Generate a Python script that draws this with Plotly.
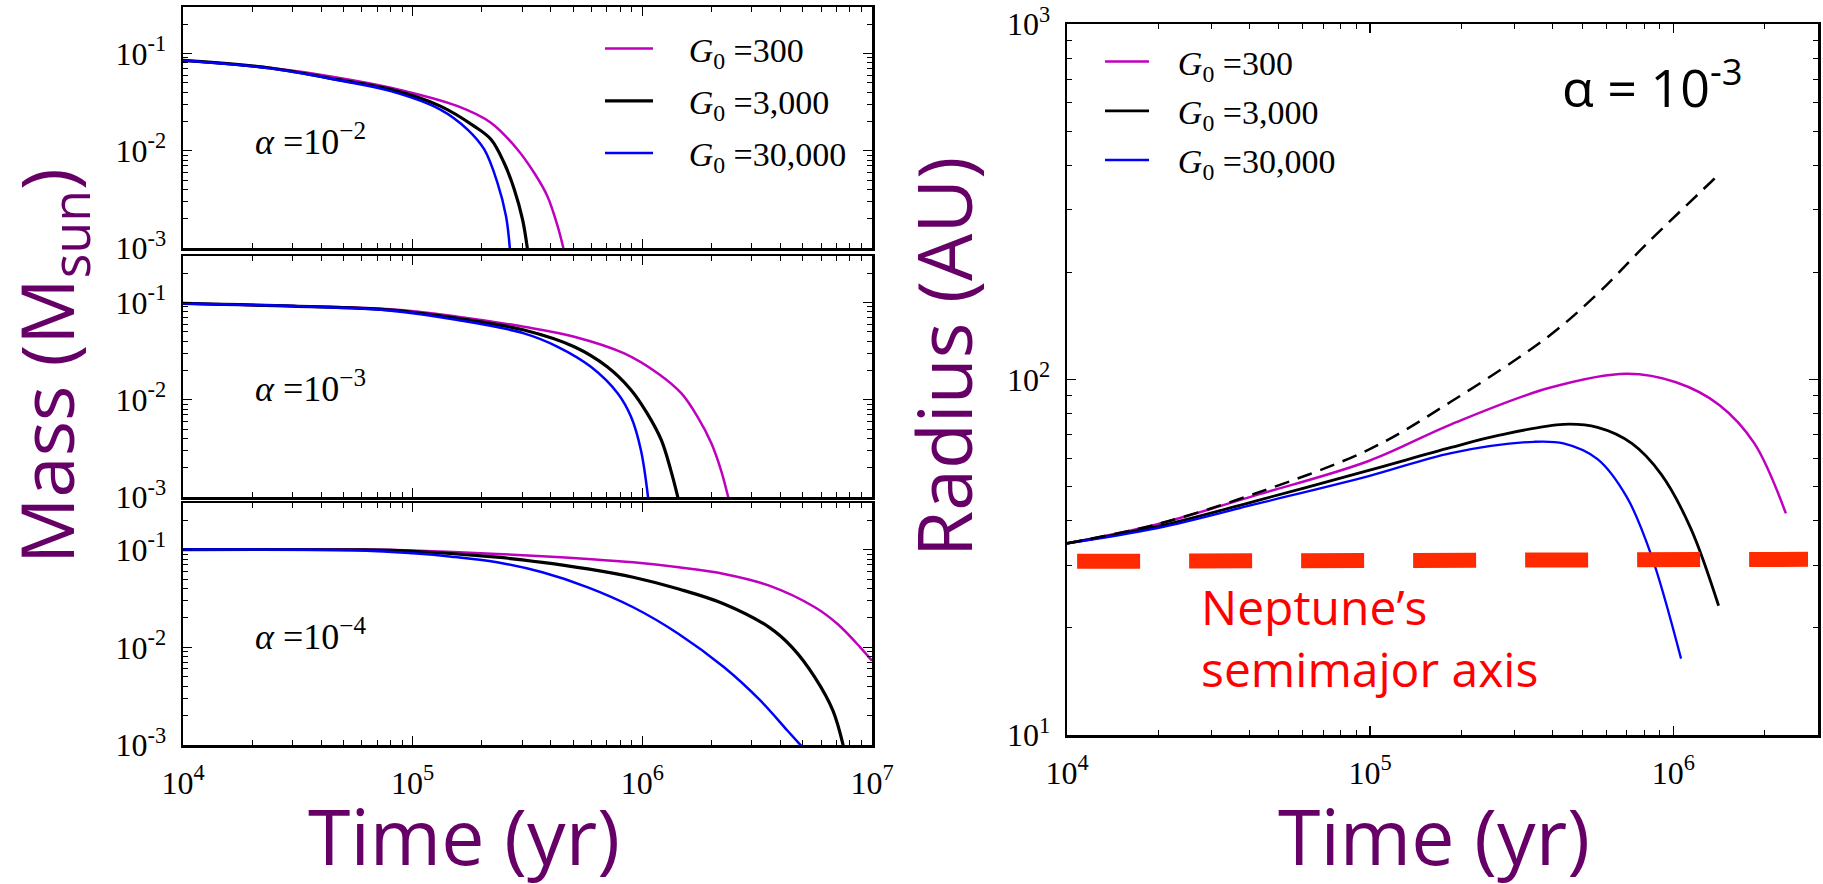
import plotly.graph_objects as go

W, H = 1823, 884

# ---------------- data ----------------
# Left column: disc mass (Msun) vs time (yr) for three viscosities
t_a2_mag = [1.0e4, 2.39e4, 4.74e4, 8.02e4, 1.57e5, 2.19e5, 2.86e5, 3.38e5, 3.86e5, 4.28e5, 4.54e5]
m_a2_mag = [0.0847, 0.0713, 0.0564, 0.0444, 0.0287, 0.0194, 0.0103, 0.00593, 0.00341, 0.00167, 0.00098]
t_a2_black = [1.0e4, 2.39e4, 4.74e4, 8.02e4, 1.32e5, 1.85e5, 2.19e5, 2.50e5, 2.77e5, 3.01e5, 3.16e5]
m_a2_black = [0.0847, 0.0708, 0.0537, 0.0427, 0.0287, 0.0179, 0.0131, 0.00752, 0.00400, 0.00196, 0.00098]
t_a2_blue = [1.0e4, 2.39e4, 4.74e4, 8.02e4, 1.32e5, 1.73e5, 2.05e5, 2.34e5, 2.55e5, 2.65e5]
m_a2_blue = [0.0847, 0.0702, 0.0530, 0.0410, 0.0265, 0.0166, 0.0103, 0.00468, 0.00212, 0.00098]

t_a3_mag = [1.0e4, 3.01e4, 8.02e4, 1.57e5, 3.05e5, 5.05e5, 8.34e5, 1.17e6, 1.48e6, 1.74e6, 2.00e6, 2.20e6, 2.37e6]
m_a3_mag = [0.0977, 0.0916, 0.0849, 0.0713, 0.0562, 0.0444, 0.0299, 0.0186, 0.0116, 0.00667, 0.00355, 0.00189, 0.00098]
t_a3_black = [1.0e4, 3.01e4, 8.02e4, 1.57e5, 3.05e5, 5.05e5, 7.03e5, 8.93e5, 1.05e6, 1.21e6, 1.33e6, 1.43e6]
m_a3_black = [0.0977, 0.0916, 0.0836, 0.0686, 0.0520, 0.0350, 0.0218, 0.0126, 0.00723, 0.00384, 0.00189, 0.00098]
t_a3_blue = [1.0e4, 3.01e4, 8.02e4, 1.57e5, 3.05e5, 4.28e5, 5.97e5, 7.82e5, 8.93e5, 9.86e5, 1.06e6]
m_a3_blue = [0.0977, 0.0916, 0.0822, 0.0659, 0.0481, 0.0350, 0.0218, 0.0116, 0.00667, 0.00303, 0.00098]

t_a4_mag = [1.0e4, 5.96e4, 1.0e5, 2.33e5, 3.67e5, 5.79e5, 9.12e5, 1.44e6, 2.27e6, 3.57e6, 5.64e6, 7.08e6, 8.89e6, 1.0e7]
m_a4_mag = [0.100, 0.100, 0.0977, 0.0904, 0.0855, 0.0802, 0.0741, 0.0659, 0.0564, 0.0428, 0.0257, 0.0173, 0.0100, 0.00729]
t_a4_black = [1.0e4, 5.96e4, 1.0e5, 2.33e5, 3.67e5, 5.79e5, 9.12e5, 1.44e6, 2.27e6, 3.57e6, 4.49e6, 5.64e6, 6.76e6, 7.50e6]
m_a4_black = [0.100, 0.0993, 0.0962, 0.0836, 0.0741, 0.0634, 0.0521, 0.0395, 0.0278, 0.0160, 0.0100, 0.00493, 0.00225, 0.00098]
t_a4_blue = [1.0e4, 5.96e4, 1.0e5, 1.48e5, 2.33e5, 3.67e5, 5.79e5, 9.12e5, 1.44e6, 2.27e6, 3.27e6, 4.29e6, 4.92e6]
m_a4_blue = [0.100, 0.0977, 0.0916, 0.0847, 0.0741, 0.0586, 0.0411, 0.0257, 0.0137, 0.00624, 0.00284, 0.00140, 0.00098]

# Right panel: disc radius (AU) vs time (yr), alpha = 1e-3
t_r_mag = [1.0e4, 1.99e4, 4.18e4, 9.89e4, 1.85e5, 3.88e5, 7.03e5, 1.02e6, 1.42e6, 1.85e6, 2.35e6]
r_mag = [34.6, 39.2, 47.2, 59.0, 74.8, 94.6, 103.8, 98.2, 84.7, 66.1, 42.0]
t_r_black = [1.0e4, 1.99e4, 4.18e4, 9.89e4, 1.85e5, 2.67e5, 4.34e5, 5.62e5, 7.29e5, 9.12e5, 1.14e6, 1.41e6]
r_black = [34.6, 38.6, 45.5, 55.5, 64.4, 69.7, 74.8, 73.3, 66.1, 54.1, 38.2, 23.1]
t_r_blue = [1.0e4, 1.99e4, 4.18e4, 9.89e4, 1.85e5, 3.47e5, 4.34e5, 5.62e5, 7.03e5, 8.45e5, 1.06e6]
r_blue = [34.6, 38.2, 44.6, 53.5, 62.1, 66.8, 66.1, 59.7, 46.6, 32.1, 16.4]
t_r_dash = [1.0e4, 1.99e4, 4.18e4, 9.89e4, 1.85e5, 3.88e5, 5.62e5, 8.15e5, 1.41e6]
r_dash = [34.6, 39.2, 47.8, 63.5, 86.7, 132.4, 174.2, 240.4, 376.7]
t_neptune = [1.08e4, 2.78e6]
r_neptune = [30.8, 31.2]

# spacing between the legend line sample and its label
GAP_L = "\u200b\u2002\u2009\u2009"
GAP_R = "\u200b\u2002\u2009"
g_labels = ["<i>G</i><sub>0</sub> =300", "<i>G</i><sub>0</sub> =3,000", "<i>G</i><sub>0</sub> =30,000"]
alpha_labels = ["<i>α</i> =10<sup>−2</sup>", "<i>α</i> =10<sup>−3</sup>", "<i>α</i> =10<sup>−4</sup>"]
mass_ticks = [1e-3, 1e-2, 1e-1]
mass_ticktext = ["10<sup>-3</sup>", "10<sup>-2</sup>", "10<sup>-1</sup>"]
time_ticks_left = [1e4, 1e5, 1e6, 1e7]
time_ticktext_left = ["10<sup>4</sup>", "10<sup>5</sup>", "10<sup>6</sup>", "10<sup>7</sup>"]
time_ticks_right = [1e4, 1e5, 1e6]
time_ticktext_right = ["10<sup>4</sup>", "10<sup>5</sup>", "10<sup>6</sup>"]
radius_ticks = [10, 100, 1000]
radius_ticktext = ["10<sup>1</sup>", "10<sup>2</sup>", "10<sup>3</sup>"]

MAG, BLK, BLU = "#bf00bf", "#000000", "#0000ff"
PURPLE = "#660066"
SERIF = "Liberation Serif"
SANS = "Open Sans"

def px(x):
    return x / W

def py(y):
    return 1 - y / H

fig = go.Figure()

panels = [
    ("x", "y", [(t_a2_mag, m_a2_mag), (t_a2_black, m_a2_black), (t_a2_blue, m_a2_blue)]),
    ("x2", "y2", [(t_a3_mag, m_a3_mag), (t_a3_black, m_a3_black), (t_a3_blue, m_a3_blue)]),
    ("x3", "y3", [(t_a4_mag, m_a4_mag), (t_a4_black, m_a4_black), (t_a4_blue, m_a4_blue)]),
]
colors = [MAG, BLK, BLU]
widths = [2.5, 3.2, 2.5]
for pi, (xa, ya, curves) in enumerate(panels):
    for ci, (tt, mm) in enumerate(curves):
        fig.add_trace(go.Scatter(
            x=tt, y=mm, xaxis=xa, yaxis=ya, mode="lines",
            line=dict(color=colors[ci], width=widths[ci], shape="spline", smoothing=1.0),
            name=GAP_L + g_labels[ci], showlegend=(pi == 0), legendgroup="L%d" % ci,
            legend="legend", hoverinfo="skip"))

right_curves = [(t_r_mag, r_mag), (t_r_black, r_black), (t_r_blue, r_blue)]
rwidths = [2.5, 2.8, 2.3]
for ci, (tt, rr) in enumerate(right_curves):
    fig.add_trace(go.Scatter(
        x=tt, y=rr, xaxis="x4", yaxis="y4", mode="lines",
        line=dict(color=colors[ci], width=rwidths[ci], shape="spline", smoothing=1.0),
        name=GAP_R + g_labels[ci], legend="legend2", legendgroup="R%d" % ci, hoverinfo="skip"))

fig.add_trace(go.Scatter(
    x=t_r_dash, y=r_dash, xaxis="x4", yaxis="y4", mode="lines",
    line=dict(color=BLK, width=2.5, dash="15px,9px", shape="spline", smoothing=1.0),
    showlegend=False, hoverinfo="skip"))
fig.add_trace(go.Scatter(
    x=t_neptune, y=r_neptune, xaxis="x4", yaxis="y4", mode="lines",
    line=dict(color="#ff2a00", width=15, dash="63px,49px"),
    showlegend=False, hoverinfo="skip"))

tickfont = dict(family=SERIF, size=32, color="black")

def log_minor(decades):
    vals = []
    for d in decades:
        for k in range(2, 10):
            vals.append(k * 10 ** d)
    return vals

def axis_common():
    return dict(type="log", showline=True, linecolor="black", linewidth=2.5, mirror="allticks",
                ticks="inside", ticklen=9, tickwidth=1.5, tickcolor="black", automargin=False,
                showgrid=False, zeroline=False, tickfont=tickfont, ticklabelstandoff=8)

left_dom = [px(183), px(872)]
right_dom = [px(1067), px(1818)]
ydoms = [[py(248), py(7)], [py(497), py(256)], [py(745), py(503)]]

layout = dict(width=W, height=H, margin=dict(l=0, r=0, t=0, b=0, autoexpand=False),
              paper_bgcolor="white", plot_bgcolor="white", autosize=False)

for i, (xa, ya) in enumerate([("xaxis", "yaxis"), ("xaxis2", "yaxis2"), ("xaxis3", "yaxis3")]):
    xd = axis_common()
    xd.update(domain=left_dom, range=[4, 7], tickvals=time_ticks_left, ticktext=time_ticktext_left,
              anchor="y" if i == 0 else "y%d" % (i + 1), showticklabels=(i == 2),
              minor=dict(ticks="inside", ticklen=5, tickwidth=1, tickcolor="black",
                         tickvals=log_minor([4, 5, 6]), showgrid=False))
    yd = axis_common()
    yd.update(domain=ydoms[i], range=[-3, -0.5229], tickvals=mass_ticks, ticktext=mass_ticktext,
              anchor="x" if i == 0 else "x%d" % (i + 1),
              minor=dict(ticks="inside", ticklen=5, tickwidth=1, tickcolor="black",
                         tickvals=log_minor([-3, -2, -1]), showgrid=False))
    layout[xa] = xd
    layout[ya] = yd

xd = axis_common()
xd.update(domain=right_dom, range=[4, 6.477], tickvals=time_ticks_right, ticktext=time_ticktext_right,
          anchor="y4", minor=dict(ticks="inside", ticklen=5, tickwidth=1, tickcolor="black",
                                  tickvals=log_minor([4, 5, 6]), showgrid=False))
yd = axis_common()
yd.update(domain=[py(735), py(24)], range=[1, 3], tickvals=radius_ticks, ticktext=radius_ticktext,
          anchor="x4", minor=dict(ticks="inside", ticklen=5, tickwidth=1, tickcolor="black",
                                  tickvals=log_minor([1, 2]), showgrid=False))
layout["xaxis4"] = xd
layout["yaxis4"] = yd

layout["legend"] = dict(x=px(600), y=py(20), xanchor="left", yanchor="top",
                        bgcolor="rgba(0,0,0,0)", borderwidth=0, itemwidth=48,
                        font=dict(family=SERIF, size=34, color="black"),
                        traceorder="grouped", tracegroupgap=5)
layout["legend2"] = dict(x=px(1100), y=py(33), xanchor="left", yanchor="top",
                         bgcolor="rgba(0,0,0,0)", borderwidth=0, itemwidth=44,
                         font=dict(family=SERIF, size=34, color="black"),
                         traceorder="grouped", tracegroupgap=2)

annotations = []
for i, base in enumerate([150, 397, 645]):
    annotations.append(dict(text=alpha_labels[i], x=px(253), y=py(base - 11), xref="paper", yref="paper",
                            xanchor="left", yanchor="middle", showarrow=False,
                            font=dict(family=SERIF, size=36, color="black")))

annotations.append(dict(text="Mass (M<sub>sun</sub>)", x=px(50), y=py(366), xref="paper", yref="paper",
                        xanchor="center", yanchor="middle", textangle=-90, showarrow=False,
                        font=dict(family=SANS, size=74, color=PURPLE)))
annotations.append(dict(text="Radius (AU)", x=px(943), y=py(357), xref="paper", yref="paper",
                        xanchor="center", yanchor="middle", textangle=-90, showarrow=False,
                        font=dict(family=SANS, size=75, color=PURPLE)))
annotations.append(dict(text="Time (yr)", x=px(464), y=py(890), xref="paper", yref="paper",
                        xanchor="center", yanchor="bottom", showarrow=False,
                        font=dict(family=SANS, size=77, color=PURPLE)))
annotations.append(dict(text="Time (yr)", x=px(1434), y=py(890), xref="paper", yref="paper",
                        xanchor="center", yanchor="bottom", showarrow=False,
                        font=dict(family=SANS, size=77, color=PURPLE)))
annotations.append(dict(text="α = 10<sup>-3</sup>", x=px(1560), y=py(84), xref="paper", yref="paper",
                        xanchor="left", yanchor="middle", showarrow=False,
                        font=dict(family=SANS, size=52, color="black")))
annotations.append(dict(text="Neptune’s<br>semimajor axis", x=px(1199), y=py(637), xref="paper", yref="paper",
                        xanchor="left", yanchor="middle", align="left", showarrow=False,
                        font=dict(family=SANS, size=48, color="#ff0000")))
layout["annotations"] = annotations

fig.update_layout(**layout)
fig.write_html("out.html", config={"displayModeBar": False, "staticPlot": True},
               post_script="document.body.style.margin='0px';document.body.style.padding='0px';")
